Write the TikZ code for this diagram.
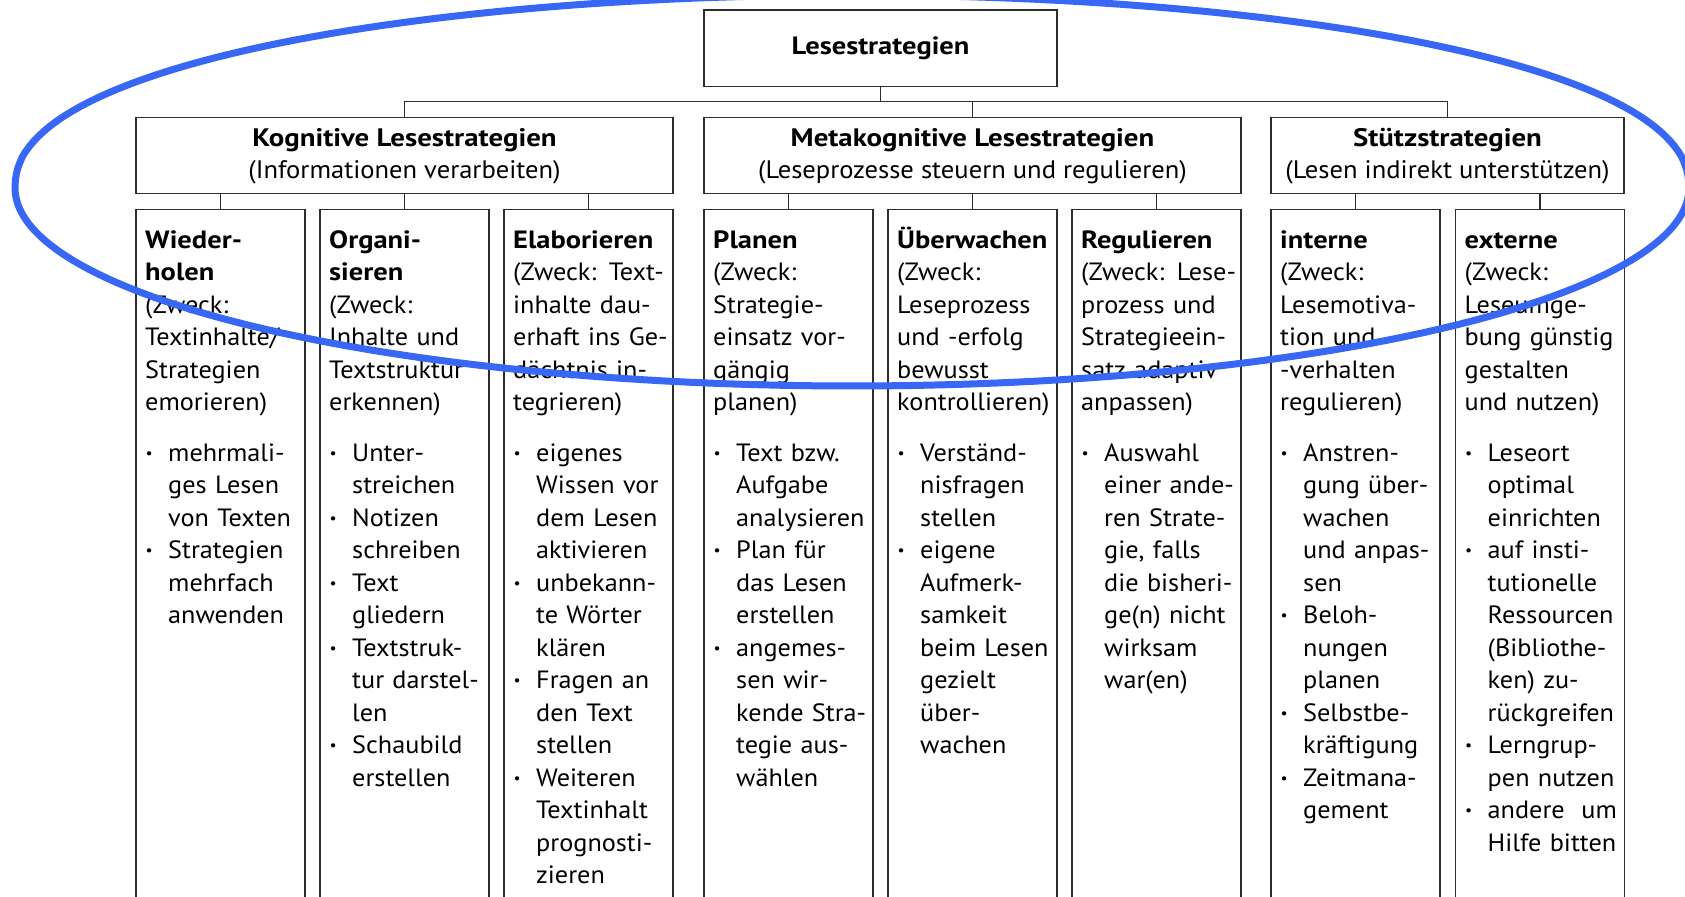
\documentclass[tikz,border=0pt]{standalone}
\usepackage{fontspec}
\setmainfont{PT Sans}[UprightFeatures={FakeStretch=1.05}, BoldFeatures={FakeStretch=1.14}]
\usetikzlibrary{positioning}
\definecolor{ringblue}{RGB}{56,102,245}
\definecolor{boxgray}{RGB}{45,45,45}
\newcommand{\itm}{\makebox[23pt][l]{\hspace{0.5pt}\raisebox{3pt}{\fontsize{15pt}{15pt}\selectfont\textbullet}}}
\newcommand{\cont}{\hspace*{23pt}}
\tikzset{
  topbox/.style={rectangle, draw=boxgray, line width=1.4pt, minimum width=353pt, minimum height=76.7pt, outer sep=0pt, font=\fontsize{25pt}{32pt}\selectfont\bfseries},
  groupbox/.style={rectangle, draw=boxgray, line width=1.4pt, minimum height=76.4pt, outer sep=0pt, inner sep=0pt, anchor=north west, align=center, text height=52pt, text depth=6.4pt, font=\fontsize{25.3pt}{31.5pt}\selectfont},
  colbox/.style={rectangle, draw=boxgray, line width=1.2pt, minimum width=169pt, minimum height=720pt, outer sep=0pt, inner sep=0pt, anchor=north west},
  coltext/.style={text width=200pt, align=left, inner sep=0pt, font=\fontsize{25pt}{32.5pt}\selectfont, execute at begin node=\strut},
  link/.style={draw=boxgray, line width=1.2pt},
  ring/.style={draw=ringblue, line width=7pt, line join=round}
}
\begin{document}
\begin{tikzpicture}[x=1pt, y=-1pt]
\useasboundingbox (0,0) rectangle (1685,896);
\clip (0,0) rectangle (1685,896);

% top level
\node (top) [topbox] at (880.5,48.3) {Lesestrategien};

% second level
\node (kog) [groupbox, minimum width=537pt] at (136,117.3) {\textbf{Kognitive Lesestrategien}\\(Informationen verarbeiten)};
\node (meta) [groupbox, minimum width=537pt] at (704,117.3) {\textbf{Metakognitive Lesestrategien}\\(Leseprozesse steuern und regulieren)};
\node (stu) [groupbox, minimum width=353pt] at (1271,117.3) {\textbf{Stützstrategien}\\(Lesen indirekt unterstützen)};

% columns
\node (wie) [colbox] at (136,209.3) {};
\node (org) [colbox, right=15pt of wie] {};
\node (ela) [colbox, right=15pt of org] {};
\node (pla) [colbox] at (704,209.3) {};
\node (ueb) [colbox, right=15pt of pla] {};
\node (reg) [colbox, right=15pt of ueb] {};
\node (int) [colbox] at (1271,209.3) {};
\node (ext) [colbox, right=15.5pt of int] {};

% connectors
\coordinate (bus) at ([yshift=-15pt]top.south);
\draw[link] (top.south) -- (bus);
\draw[link] (kog.north) |- (bus) -| (stu.north);
\draw[link] (meta.north) -- (meta.north |- bus);
\foreach \c/\p in {wie/kog, org/kog, ela/kog, pla/meta, ueb/meta, reg/meta, int/stu, ext/stu}
  \draw[link] (\c.north) -- (\c.north |- \p.south);

% column texts
\node (wietx) [coltext, below right=16pt and 9pt of wie.north west] {\textbf{Wieder-}\\\textbf{holen}\\(Zweck:\\Textinhalte/\\Strategien\\emorieren)\\[18pt]
\itm mehrmali-\\\cont ges Lesen\\\cont von Texten\\\itm Strategien\\\cont mehrfach\\\cont anwenden};
\node (orgtx) [coltext, below right=16pt and 9pt of org.north west] {\textbf{Organi-}\\\textbf{sieren}\\(Zweck:\\Inhalte und\\Textstruktur\\erkennen)\\[18pt]
\itm Unter-\\\cont streichen\\\itm Notizen\\\cont schreiben\\\itm Text\\\cont gliedern\\\itm Textstruk-\\\cont tur darstel-\\\cont len\\\itm Schaubild\\\cont erstellen};
\node (elatx) [coltext, below right=16pt and 9pt of ela.north west] {\textbf{Elaborieren}\\(Zweck: Text-\\inhalte dau-\\erhaft ins Ge-\\dächtnis in-\\tegrieren)\\[18pt]
\itm eigenes\\\cont Wissen vor\\\cont dem Lesen\\\cont aktivieren\\\itm unbekann-\\\cont te Wörter\\\cont klären\\\itm Fragen an\\\cont den Text\\\cont stellen\\\itm Weiteren\\\cont Textinhalt\\\cont prognosti-\\\cont zieren};
\node (platx) [coltext, below right=16pt and 9pt of pla.north west] {\textbf{Planen}\\(Zweck:\\Strategie-\\einsatz vor-\\gängig\\planen)\\[18pt]
\itm Text bzw.\\\cont Aufgabe\\\cont analysieren\\\itm Plan für\\\cont das Lesen\\\cont erstellen\\\itm angemes-\\\cont sen wir-\\\cont kende Stra-\\\cont tegie aus-\\\cont wählen};
\node (uebtx) [coltext, below right=16pt and 9pt of ueb.north west] {\textbf{Überwachen}\\(Zweck:\\Leseprozess\\und -erfolg\\bewusst\\kontrollieren)\\[18pt]
\itm Verständ-\\\cont nisfragen\\\cont stellen\\\itm eigene\\\cont Aufmerk-\\\cont samkeit\\\cont beim Lesen\\\cont gezielt\\\cont über-\\\cont wachen};
\node (regtx) [coltext, below right=16pt and 9pt of reg.north west] {\textbf{Regulieren}\\(Zweck: Lese-\\prozess und\\Strategieein-\\satz adaptiv\\anpassen)\\[18pt]
\itm Auswahl\\\cont einer ande-\\\cont ren Strate-\\\cont gie, falls\\\cont die bisheri-\\\cont ge(n) nicht\\\cont wirksam\\\cont war(en)};
\node (inttx) [coltext, below right=16pt and 9pt of int.north west] {\textbf{interne}\\(Zweck:\\Lesemotiva-\\tion und\\-verhalten\\regulieren)\\[18pt]
\itm Anstren-\\\cont gung über-\\\cont wachen\\\cont und anpas-\\\cont sen\\\itm Beloh-\\\cont nungen\\\cont planen\\\itm Selbstbe-\\\cont kräftigung\\\itm Zeitmana-\\\cont gement};
\node (exttx) [coltext, below right=16pt and 9pt of ext.north west] {\textbf{externe}\\(Zweck:\\Leseumge-\\bung günstig\\gestalten\\und nutzen)\\[18pt]
\itm Leseort\\\cont optimal\\\cont einrichten\\\itm auf insti-\\\cont tutionelle\\\cont Ressourcen\\\cont (Bibliothe-\\\cont ken) zu-\\\cont rückgreifen\\\itm Lerngrup-\\\cont pen nutzen\\\itm andere~ um\\\cont Hilfe bitten};

% highlight ring, flatter on top
\draw[ring] plot[variable=\t, domain=0.05:179.95, samples=120] ({852+837*cos(\t)}, {188-193*sin(\t)^0.909})
  -- plot[variable=\t, domain=0:180, samples=120] ({852-837*cos(\t)}, {188+198*sin(\t)}) -- cycle;
\end{tikzpicture}
\end{document}
